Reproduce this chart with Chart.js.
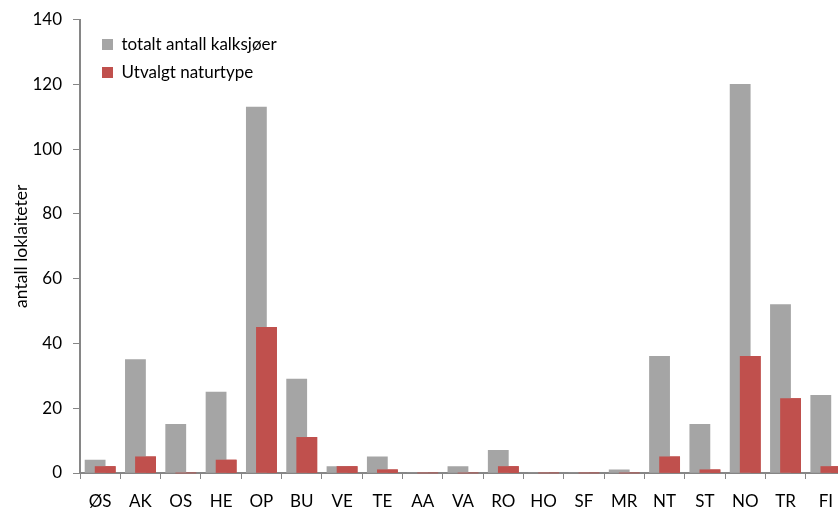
<!DOCTYPE html>
<html>
<head>
<meta charset="utf-8">
<script src="https://cdn.jsdelivr.net/npm/chart.js@4"></script>
<style>
  html, body { margin: 0; padding: 0; background: #fff; overflow: hidden; }
  #wrap { width: 846px; height: 508px; }
</style>
</head>
<body>
<div id="wrap"><canvas id="c"></canvas></div>
<script>
// Regions (fylker) and counts
const regions = ['ØS','AK','OS','HE','OP','BU','VE','TE','AA','VA','RO','HO','SF','MR','NT','ST','NO','TR','FI'];
const totalLakes = [4, 35, 15, 25, 113, 29, 2, 5, 0, 2, 7, 0, 0, 1, 36, 15, 120, 52, 24];
const selectedType = [2, 5, 0, 4, 45, 11, 2, 1, 0, 0, 2, 0, 0, 0, 5, 1, 36, 23, 2];
const yTicks = [0, 20, 40, 60, 80, 100, 120, 140];

const AXIS = '#868686';
const FONT = { family: 'Lato, "Open Sans", sans-serif', size: 17 };

// red series sits on top of the grey one, so draw it again last
const redOnTop = {
  id: 'redOnTop',
  afterDatasetsDraw(chart) {
    const meta = chart.getDatasetMeta(1);
    if (!meta.hidden) meta.controller.draw();
  },
};

// nudge the in-plot legend away from the axis corner
const legendNudge = {
  id: 'legendNudge',
  afterLayout(chart) {
    if (chart.legend) {
      chart.legend.left += 11;
      chart.legend.top += 25;
    }
  },
};

new Chart(document.getElementById('c'), {
  type: 'bar',
  data: {
    labels: regions,
    datasets: [
      {
        label: 'totalt antall kalksjøer',
        data: totalLakes,
        backgroundColor: '#A5A5A5',
        categoryPercentage: 0.5,
        barPercentage: 2,
      },
      {
        label: 'Utvalgt naturtype',
        data: selectedType,
        backgroundColor: '#C0504D',
        categoryPercentage: 0.5,
        barPercentage: 2,
      },
    ],
  },
  options: {
    responsive: true,
    maintainAspectRatio: false,
    animation: false,
    layout: { padding: 0 },
    plugins: {
      tooltip: { enabled: false },
      legend: {
        position: 'chartArea',
        align: 'start',
        labels: {
          boxWidth: 11,
          boxHeight: 11,
          color: '#000',
          font: FONT,
          padding: 11,
        },
      },
    },
    scales: {
      x: {
        offset: true,
        grid: { offset: true, drawOnChartArea: false, tickLength: 6, color: AXIS },
        border: { color: AXIS, width: 2 },
        ticks: { color: '#000', font: FONT, padding: 12, maxRotation: 0, autoSkip: false },
        afterFit: (s) => { s.height = 35; },
      },
      y: {
        min: 0,
        max: 140,
        afterBuildTicks: (s) => { s.ticks = yTicks.map((v) => ({ value: v })); },
        grid: { drawOnChartArea: false, tickLength: 7, color: AXIS },
        border: { color: AXIS, width: 2 },
        ticks: { color: '#000', font: { ...FONT, lineHeight: 1 }, padding: 11 },
        title: {
          display: true,
          text: 'antall loklaiteter',
          color: '#000',
          font: { family: FONT.family, size: 17.5 },
          padding: { top: 11, bottom: 0 },
        },
        afterFit: (s) => { s.width = 80; },
      },
    },
  },
  plugins: [redOnTop, legendNudge],
});
</script>
</body>
</html>
